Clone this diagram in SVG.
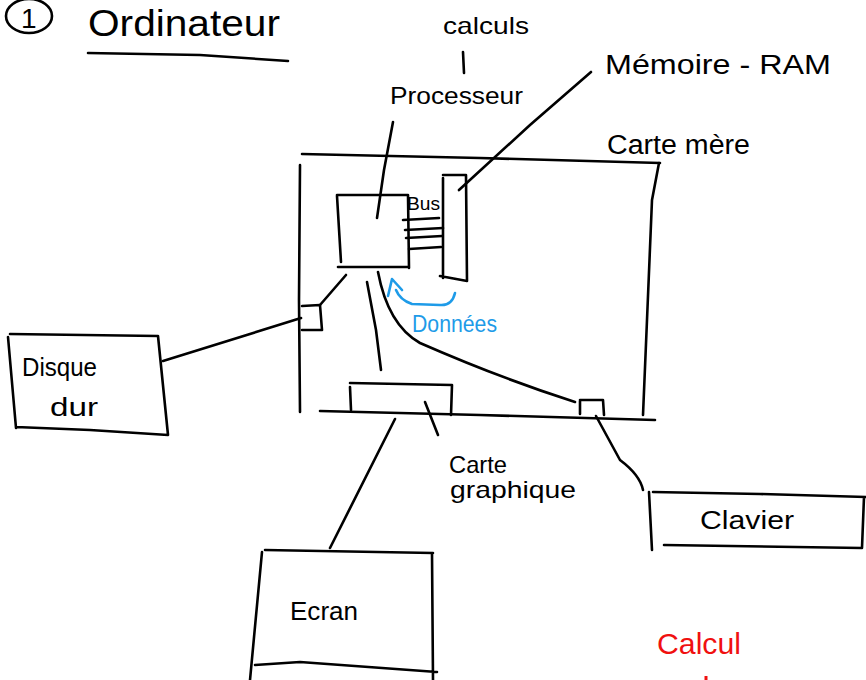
<svg xmlns="http://www.w3.org/2000/svg" width="866" height="680" viewBox="0 0 866 680">
<style>
.s{fill:none;stroke:#000;stroke-width:2.6;stroke-linecap:round;stroke-linejoin:round}
.b{fill:none;stroke:#1e9be8;stroke-width:2.6;stroke-linecap:round;stroke-linejoin:round}
.t{font-family:"Liberation Sans",Arial,sans-serif;fill:#000}
.tb{fill:#1e9be8}
.tr{fill:#f01010}
</style>
<rect width="866" height="680" fill="#fff"/>
<g id="title">
<ellipse class="s" cx="29" cy="16" rx="23" ry="17"/>
<text class="t" x="21" y="28" style="font-size:28px">1</text>
<text class="t" x="88" y="36" style="font-size:36px" textLength="192" lengthAdjust="spacingAndGlyphs">Ordinateur</text>
<path class="s" d="M88 53 L200 55 L288 61"/>
</g>
<g id="calculs">
<text class="t" x="443" y="34" style="font-size:24px" textLength="86" lengthAdjust="spacingAndGlyphs">calculs</text>
<path class="s" d="M463 52 L464 73"/>
</g>
<g id="processeur">
<text class="t" x="390" y="104" style="font-size:24px" textLength="133" lengthAdjust="spacingAndGlyphs">Processeur</text>
</g>
<g id="memoire">
<text class="t" x="605" y="74" style="font-size:27px" textLength="226" lengthAdjust="spacingAndGlyphs">Mémoire - RAM</text>
</g>
<g id="carte-mere">
<text class="t" x="607" y="154" style="font-size:27px" textLength="143" lengthAdjust="spacingAndGlyphs">Carte mère</text>
<path class="s" d="M302 154 L480 158 L660 163"/>
<path class="s" d="M300 165 L299 300 L300 412"/>
<path class="s" d="M659 163 L652 200 L647 320 L643 415"/>
<path class="s" d="M320 411 L480 415 L655 420"/>
</g>
<g id="cpu">
<path class="s" d="M337 195 L408 195 L409 268"/>
<path class="s" d="M337 196 L341 262"/>
<path class="s" d="M338 267 L408 267"/>
</g>
<g id="bus">
<text class="t" x="407" y="210" style="font-size:19px" textLength="33" lengthAdjust="spacingAndGlyphs">Bus</text>
<path class="s" d="M403 220 L439 218 M405 230 L443 228 M406 238 L442 236 M409 249 L441 247"/>
</g>
<g id="ram">
<path class="s" d="M443 178 L443 278 M443 175 L466 175 L467 281 M440 276 L467 281"/>
</g>
<g id="donnees">
<path class="b" d="M455 293 Q452 306 440 305 L412 304 Q400 300 396 290"/>
<path class="b" d="M388 296 L392 279 L402 290"/>
<text class="t tb" x="412" y="332" style="font-size:24px" textLength="85" lengthAdjust="spacingAndGlyphs">Données</text>
</g>
<g id="disk-port">
<path class="s" d="M302 306 L320 305 L322 330 L302 330"/>
</g>
<g id="gpu">
<path class="s" d="M350 383 L452 385 L451 415 M350 387 L351 410"/>
</g>
<g id="kbd-port">
<path class="s" d="M580 401 L580 414 M580 400 L603 400 L604 415"/>
</g>
<g id="disque">
<path class="s" d="M10 334 L158 336 L168 435 M8 337 L16 428 M16 427 L90 430 L168 435"/>
<text class="t" x="22" y="376" style="font-size:26px" textLength="75" lengthAdjust="spacingAndGlyphs">Disque</text>
<text class="t" x="50" y="416" style="font-size:26px" textLength="48" lengthAdjust="spacingAndGlyphs">dur</text>
</g>
<g id="carte-graphique">
<text class="t" x="449" y="473" style="font-size:24px" textLength="58" lengthAdjust="spacingAndGlyphs">Carte</text>
<text class="t" x="450" y="498" style="font-size:24px" textLength="126" lengthAdjust="spacingAndGlyphs">graphique</text>
</g>
<g id="clavier">
<path class="s" d="M649 492 L652 550 M653 492 L760 494 L866 497 M864 497 L862 548 M664 545 L862 548"/>
<text class="t" x="700" y="529" style="font-size:26px" textLength="94" lengthAdjust="spacingAndGlyphs">Clavier</text>
</g>
<g id="ecran">
<path class="s" d="M265 550 L433 553 M262 552 L250 680 M432 553 L433 680 M255 665 L300 662 L437 672"/>
<text class="t" x="290" y="620" style="font-size:26px" textLength="68" lengthAdjust="spacingAndGlyphs">Ecran</text>
</g>
<g id="calcul">
<text class="t tr" x="657" y="654" style="font-size:29px" textLength="84" lengthAdjust="spacingAndGlyphs">Calcul</text>
<path d="M706 676 L706 680" stroke="#f01010" stroke-width="3"/>
</g>
<g id="connectors">
<path class="s" d="M393 122 L384 170 L377 218"/>
<path class="s" d="M591 72 L530 125 L459 190"/>
<path class="s" d="M346 275 L333 290 L320 305"/>
<path class="s" d="M301 318 L163 361"/>
<path class="s" d="M367 282 L376 330 L381 370"/>
<path class="s" d="M378 272 Q388 325 420 343 Q500 378 575 402"/>
<path class="s" d="M425 402 L438 435"/>
<path class="s" d="M395 419 L330 548"/>
<path class="s" d="M596 416 L620 460 Q640 475 643 490"/>
</g>
</svg>
